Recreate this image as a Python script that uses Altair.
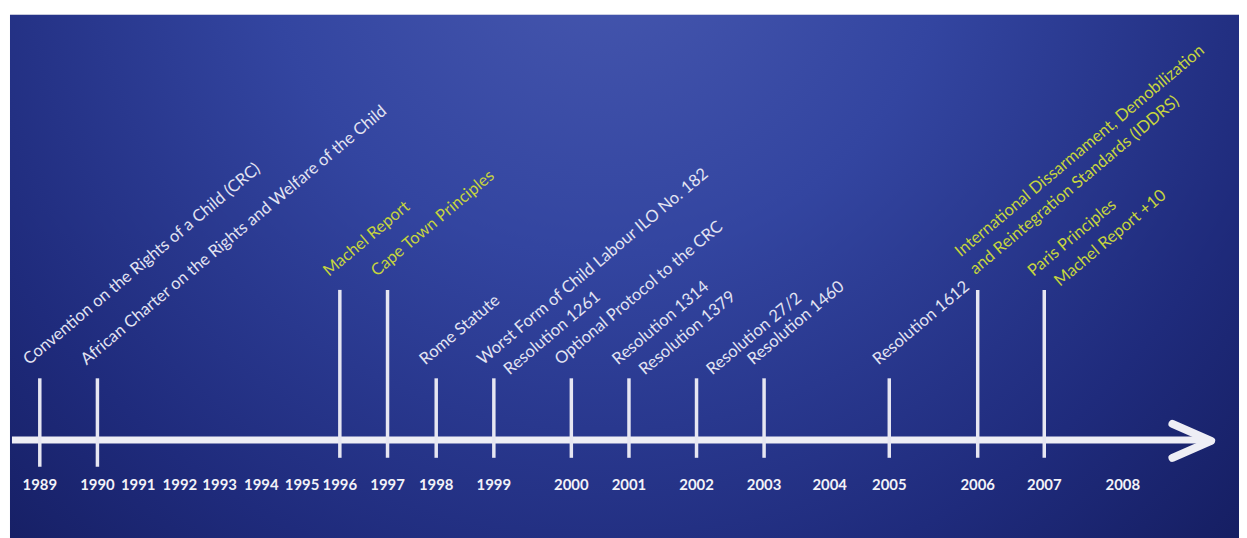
import altair as alt
import pandas as pd

# ---------------- data ----------------
years = list(range(1989, 2009))

event_years = [1989, 1990, 1996, 1997, 1998, 1999, 1999, 2000, 2001, 2001,
               2002, 2003, 2005, 2006, 2007, 2007]
event_labels = [
    "Convention on the Rights of a Child  (CRC)",
    "African Charter on the Rights and Welfare of the Child",
    "Machel Report",
    "Cape Town Principles",
    "Rome Statute",
    "Worst Form of Child Labour ILO No. 182",
    "Resolution 1261",
    "Optional Protocol to the CRC",
    "Resolution 1314",
    "Resolution 1379",
    "Resolution 27/2",
    "Resolution 1460",
    "Resolution 1612",
    "International Dissarmament, Demobilization\nand Reintegration Standards (IDDRS)",
    "Paris Principles",
    "Machel Report +10",
]
event_rows = [0, 0, 0, 0, 0, 0, 1, 0, 0, 1, 1, 0, 0, 0, 0, 1]
event_key = [False, False, True, True, False, False, False, False, False, False,
             False, False, False, True, True, True]

events = pd.DataFrame({
    "year": event_years,
    "label": event_labels,
    "row": event_rows,
    "key": event_key,
})
tick_years = sorted(set(event_years))
ticks_df = pd.DataFrame({
    "year": tick_years,
    "key": [any(k for y, k in zip(event_years, event_key) if y == ty) for ty in tick_years],
})
year_df = pd.DataFrame({"year": years})

# ---------------- styling ----------------
W, H = 1239, 530
WHITE = "#e2e3f2"
YELLOW = "#c6d43e"
FONT = "Lato"

# non-uniform timeline spacing as in the original graphic (piecewise scale)
xscale = alt.Scale(
    domain=years,
    range=[32, 90, 131, 173, 213, 255, 296, 334, 382, 431,
           489, 567, 625, 693, 761, 827, 887, 976, 1043, 1122],
    zero=False, nice=False,
)

bg = alt.Chart(pd.DataFrame({"a": [0]})).mark_rect(
    fill={
        "gradient": "radial",
        "x1": 0.48, "y1": 0.2, "r1": 0.0,
        "x2": 0.48, "y2": 0.2, "r2": 0.8,
        "stops": [
            {"offset": 0.0, "color": "#4859b0"},
            {"offset": 0.35, "color": "#3345a0"},
            {"offset": 0.7, "color": "#1f2b7c"},
            {"offset": 1.0, "color": "#111856"},
        ],
    }
).encode(x=alt.value(2), x2=alt.value(W + 10), y=alt.value(5), y2=alt.value(H + 10))

axis_line = alt.Chart(pd.DataFrame({"a": [0]})).mark_rule(
    color="#eeeef5", strokeWidth=7
).encode(x=alt.value(4), x2=alt.value(1208), y=alt.value(433))

arrow_head = alt.Chart(pd.DataFrame({"a": [0]})).mark_point(
    shape="M -1 -0.44 L 0 0 L -1 0.44",
    filled=False, size=6084, strokeWidth=8, color="#eeeef5",
    strokeCap="round", strokeJoin="round", opacity=1,
).encode(x=alt.value(1211), y=alt.value(434))

ticks = alt.Chart(ticks_df).transform_calculate(
    top="datum.key ? 282 : 371",
    bottom="datum.year <= 1990 ? 460 : 451",
).mark_rule(color="#e6e6f2", strokeWidth=3.5).encode(
    x=alt.X("year:Q", scale=xscale, axis=None),
    y=alt.Y("top:Q", scale=None, axis=None),
    y2="bottom:Q",
)

ev = alt.Chart(events).transform_calculate(top="datum.key ? 282 : 371")

# dx / dy are applied in the rotated text frame (along / across the baseline)
text_common = dict(align="left", baseline="alphabetic", angle=320,
                   font=FONT, fontSize=16.7, lineBreak="\n", lineHeight=23)

enc = dict(
    x=alt.X("year:Q", scale=xscale, axis=None),
    y=alt.Y("top:Q", scale=None, axis=None),
    text="label:N",
    color=alt.condition("datum.key", alt.value(YELLOW), alt.value(WHITE)),
)

labels0 = ev.transform_filter(
    "datum.row == 0 && indexof(datum.label, '\\n') < 0"
).mark_text(dx=0, dy=-17, **text_common).encode(**enc)

labels_multi = ev.transform_filter(
    "datum.row == 0 && indexof(datum.label, '\\n') >= 0"
).mark_text(dx=8, dy=-36, **text_common).encode(**enc)

labels1 = ev.transform_filter("datum.row == 1").mark_text(
    dx=14, dy=8, **text_common
).encode(**enc)

year_labels = alt.Chart(year_df).mark_text(
    font=FONT, fontSize=15, fontWeight="bold", color="#f2f2f8",
    baseline="middle", align="center",
).encode(
    x=alt.X("year:Q", scale=xscale, axis=None),
    y=alt.value(478),
    text=alt.Text("year:Q", format="d"),
)

chart = alt.layer(
    bg, axis_line, ticks, arrow_head, labels0, labels_multi, labels1, year_labels
).properties(
    width=W, height=H, padding=0, autosize=alt.AutoSizeParams(type="none"),
    background="white",
).configure_view(stroke=None)

chart.save("out.html", embed_options={"renderer": "svg", "actions": False})
